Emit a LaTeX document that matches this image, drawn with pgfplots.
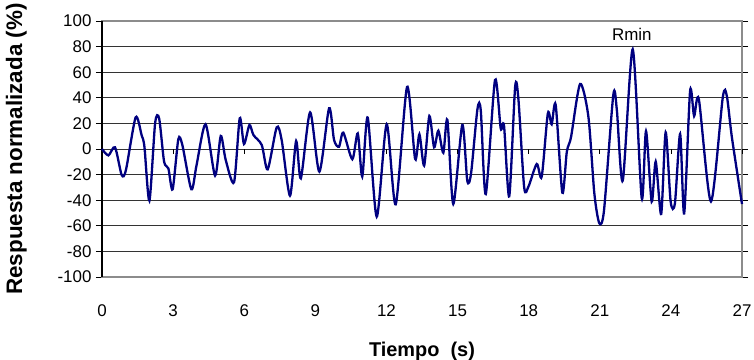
\documentclass[border=0pt]{standalone}
\usepackage{pgfplots}
\pgfplotsset{compat=1.18}
\usepackage{fontspec}
\setmainfont{Liberation Sans}
\definecolor{serie}{RGB}{0,0,128}
\definecolor{marco}{RGB}{140,140,140}

\begin{document}
\begin{tikzpicture}
\begin{axis}[
  scale only axis,
  width=640bp, height=256bp,
  at={(0,0)}, anchor=south west,
  xmin=0, xmax=27, ymin=-100, ymax=100,
  xtick={0,3,...,27}, ytick={-100,-80,...,100},
  axis line style={draw=marco, line width=1.6bp},
  ymajorgrids, major grid style={black!80, line width=0.7bp},
  x tick style={draw=none},
  y tick style={black, line width=0.7bp},
  tick align=outside, major tick length=6bp,
  xticklabel style={yshift=-18bp},
  yticklabel style={xshift=-1bp},
  /pgf/number format/assume math mode=true,
  tick label style={font=\fontsize{17}{19}\selectfont},
  xlabel={\textbf{Tiempo\ \ (s)}},
  ylabel={\textbf{Respuesta normalizada (\%)}},
  xlabel style={font=\fontsize{20}{22}\selectfont, yshift=-19bp},
  ylabel style={font=\fontsize{22.5}{24}\selectfont, yshift=24bp},
  clip=false,
]
% tick marks of the time axis, drawn down from the zero line
\addplot[ycomb, black, line width=0.7bp, forget plot, mark=none]
  coordinates {(3,-4) (6,-4) (9,-4) (12,-4) (15,-4) (18,-4) (21,-4) (24,-4) (27,-4)};
% left axis line
\addplot[black, line width=1.6bp, forget plot, mark=none]
  coordinates {(0,-100) (0,100)};
\addplot[serie, line width=2.3bp, smooth, tension=0.45, mark=none] coordinates {
(0,0) (0.27,-5) (0.55,1.3) (0.83,-20.3) (1.01,-16.4) (1.42,24.7) (1.67,10.9)
(1.79,1.8) (2.0,-40.4) (2.24,20) (2.41,24) (2.62,-9.9) (2.80,-15.1) (2.98,-31.5)
(3.22,7.6) (3.39,3.1) (3.77,-31.5) (3.99,-12.5) (4.37,19.3) (4.77,-20.8)
(5.01,10.2) (5.22,-8.6) (5.57,-26) (5.81,24) (5.99,3.9) (6.22,18.8) (6.39,10.9)
(6.74,3.1) (6.99,-15.9) (7.37,16.9) (7.58,7) (7.93,-36.5)
(8.19,6.2) (8.39,-22.9) (8.78,28.6) (9.17,-17.7) (9.58,31.8) (9.79,7)
(10.0,1.8) (10.18,12.8) (10.56,-8) (10.79,12.2) (10.98,-21.6) (11.21,24.5)
(11.59,-52.9) (12.01,19.3) (12.39,-43.2) (12.87,48.5)
(13.21,-7.8) (13.39,11.5) (13.59,-13) (13.81,25.8) (14.01,1.3) (14.19,14.3)
(14.40,-2.9) (14.57,22.7) (14.82,-43) (15.20,18.8) (15.41,-24.7) (15.57,-19)
(15.84,31.3) (15.98,30) (16.19,-35.2) (16.58,53.9) (16.82,16.1) (16.96,18.2)
(17.18,-37) (17.43,48.7) (17.57,38.3) (17.81,-29.9) (17.99,-29.4)
(18.34,-11.7) (18.55,-21.6) (18.81,27.9) (18.97,19.3) (19.14,34.4)
(19.42,-34.1) (19.61,-2.1) (19.79,9.6) (20.17,50.8) (20.52,25.2)
(20.77,-34.6) (20.98,-58) (21.18,-47.7) (21.57,42.2) (21.72,30.5)
(21.97,-24.7) (22.39,77.9) (22.77,-38.5) (22.95,14) (23.19,-41.1)
(23.36,-9.9) (23.59,-50.8) (23.78,13) (23.99,-41.1) (24.17,-42.4)
(24.39,11.7) (24.56,-50.3) (24.81,45.3) (24.98,25.8) (25.18,38.8)
(25.69,-41) (26.19,40.4) (26.36,41.4) (26.57,9.6) (27,-43)
};
\node[font=\fontsize{17}{19}\selectfont] at (axis cs:22.35,89.8) {Rmin};
\end{axis}
\pgfresetboundingbox
\path[use as bounding box] (-102bp,-83bp) rectangle (652bp,277bp);
\end{tikzpicture}
\end{document}
